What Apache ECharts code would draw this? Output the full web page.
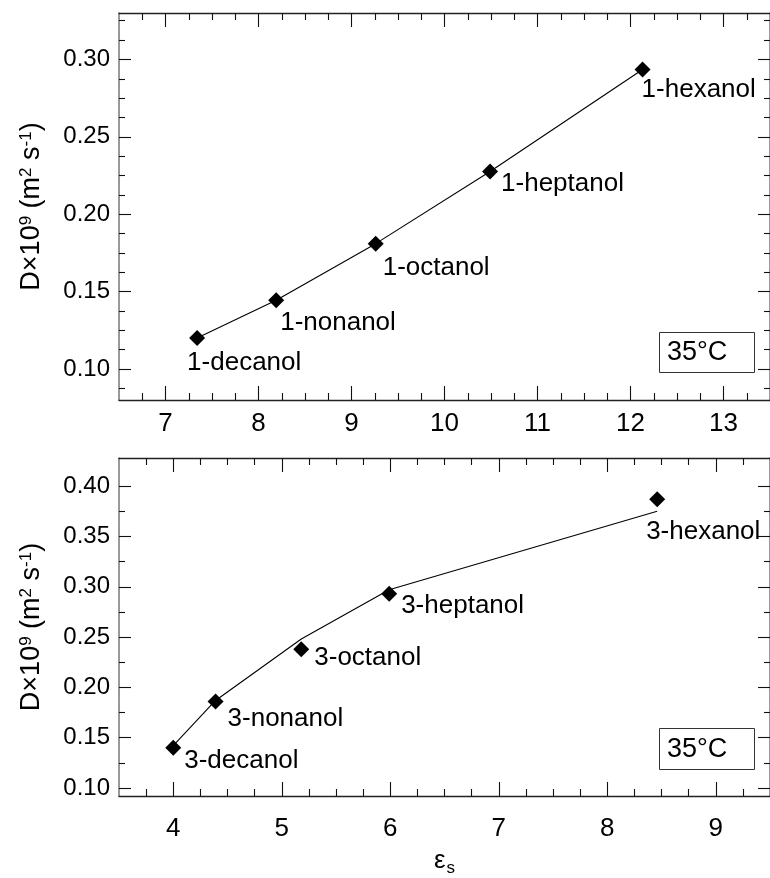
<!DOCTYPE html>
<html>
<head>
<meta charset="utf-8">
<script src="https://cdn.jsdelivr.net/npm/echarts@6/dist/echarts.min.js"></script>
<style>
  html, body { margin: 0; padding: 0; background: #fff; }
  #chart { width: 770px; height: 878px; }
</style>
</head>
<body>
<div id="chart"></div>
<script>
// Primary alcohols (upper panel)
const topNames = ['1-decanol', '1-nonanol', '1-octanol', '1-heptanol', '1-hexanol'];
const topEps   = [7.34, 8.19, 9.26, 10.49, 12.13];
const topD     = [0.120, 0.1445, 0.181, 0.2276, 0.2935];

// Secondary alcohols (lower panel): measured points and model curve
const botNames = ['3-decanol', '3-nonanol', '3-octanol', '3-heptanol', '3-hexanol'];
const botEps   = [4.00, 4.39, 5.18, 5.99, 8.46];
const botD     = [0.140, 0.186, 0.238, 0.293, 0.387];
const botFit   = [0.142, 0.187, 0.248, 0.297, 0.375];

// Tick labels
const topXTicks = [7, 8, 9, 10, 11, 12, 13];
const topYTicks = [0.10, 0.15, 0.20, 0.25, 0.30];
const botXTicks = [4, 5, 6, 7, 8, 9];
const botYTicks = [0.10, 0.15, 0.20, 0.25, 0.30, 0.35, 0.40];

const tempLabel = '35°C';

// Label placement relative to each marker (pixels)
const topLabelOffsets = [[-10, 25], [4, 23], [7, 24], [11, 12], [-1, 20]];
const botLabelOffsets = [[11, 13], [12, 17], [13, 9], [12, 12], [-11, 33]];

const FONT = '"Liberation Sans", Helvetica, Arial, sans-serif';
const INK = '#000';

function minorValues(min, max, step, majorStep) {
  const out = [];
  const n0 = Math.ceil(min / step - 1e-9);
  const n1 = Math.floor(max / step + 1e-9);
  for (let i = n0; i <= n1; i++) {
    const v = +(i * step).toFixed(6);
    const r = v / majorStep;
    if (Math.abs(r - Math.round(r)) < 1e-6) continue;
    if (v - min < step * 0.3 || max - v < step * 0.3) continue;
    out.push(v);
  }
  return out;
}

// Four x axes and four y axes per panel: labelled major, minor, and mirrored copies
function panelAxes(grid, xr, yr, xMajor, yMajor, xStep, yStep, xMajStep, yMajStep, xLabelMargin, withXName) {
  const xMinor = minorValues(xr[0], xr[1], xStep, xMajStep);
  const yMinor = minorValues(yr[0], yr[1], yStep, yMajStep);
  const xLine = { show: true, onZero: false, lineStyle: { color: '#222', width: 1.3 } };
  const yLine = { show: true, onZero: false, lineStyle: { color: '#777', width: 1.5 } };
  const tickStyle = { color: '#111', width: 1.1 };
  const base = { type: 'value', gridIndex: grid, splitLine: { show: false } };
  const xs = [
    Object.assign({}, base, {
      min: xr[0], max: xr[1], position: 'bottom', axisLine: xLine,
      axisTick: { show: true, inside: true, length: 14, customValues: xMajor, lineStyle: tickStyle },
      axisLabel: { show: true, customValues: xMajor, margin: xLabelMargin, color: INK, fontSize: 26, fontFamily: FONT,
                   formatter: v => String(Math.round(v)) },
      name: withXName ? '{e|ε}{s|s}' : '',
      nameLocation: 'middle', nameGap: 52,
      nameTextStyle: { color: INK, fontFamily: FONT,
        rich: { e: { fontSize: 26, fontFamily: FONT, color: INK, verticalAlign: 'top' },
                s: { fontSize: 17, fontFamily: FONT, color: INK, verticalAlign: 'bottom', padding: [12, 0, 0, 1] } } }
    }),
    Object.assign({}, base, {
      min: xr[0], max: xr[1], position: 'bottom', axisLine: { show: false },
      axisTick: { show: true, inside: true, length: 7, customValues: xMinor, lineStyle: tickStyle },
      axisLabel: { show: false }
    }),
    Object.assign({}, base, {
      min: xr[0], max: xr[1], position: 'top', axisLine: xLine,
      axisTick: { show: true, inside: true, length: 14, customValues: xMajor, lineStyle: tickStyle },
      axisLabel: { show: false }
    }),
    Object.assign({}, base, {
      min: xr[0], max: xr[1], position: 'top', axisLine: { show: false },
      axisTick: { show: true, inside: true, length: 7, customValues: xMinor, lineStyle: tickStyle },
      axisLabel: { show: false }
    })
  ];
  const ys = [
    Object.assign({}, base, {
      min: yr[0], max: yr[1], position: 'left', axisLine: yLine,
      axisTick: { show: true, inside: true, length: 12, customValues: yMajor, lineStyle: tickStyle },
      axisLabel: { show: true, customValues: yMajor, margin: 9, color: INK, fontSize: 24, fontFamily: FONT,
                   formatter: v => v.toFixed(2) },
      name: '{n|D×10}{p|9}{n| (m}{p|2}{n| s}{p|-1}{n|)}',
      nameLocation: 'middle', nameGap: 74, nameRotate: 90,
      nameTextStyle: { color: INK, fontFamily: FONT,
        rich: { n: { fontSize: 27, fontFamily: FONT, color: INK, verticalAlign: 'bottom' },
                p: { fontSize: 17, fontFamily: FONT, color: INK, verticalAlign: 'top' } } }
    }),
    Object.assign({}, base, {
      min: yr[0], max: yr[1], position: 'left', axisLine: { show: false },
      axisTick: { show: true, inside: true, length: 6, customValues: yMinor, lineStyle: tickStyle },
      axisLabel: { show: false }
    }),
    Object.assign({}, base, {
      min: yr[0], max: yr[1], position: 'right', axisLine: yLine,
      axisTick: { show: true, inside: true, length: 12, customValues: yMajor, lineStyle: tickStyle },
      axisLabel: { show: false }
    }),
    Object.assign({}, base, {
      min: yr[0], max: yr[1], position: 'right', axisLine: { show: false },
      axisTick: { show: true, inside: true, length: 6, customValues: yMinor, lineStyle: tickStyle },
      axisLabel: { show: false }
    })
  ];
  return { xs, ys };
}

const topAxes = panelAxes(0, [6.5, 13.5], [0.08, 0.33], topXTicks, topYTicks, 0.25, 0.0125, 1, 0.05, 11, false);
const botAxes = panelAxes(1, [3.5, 9.5], [0.092, 0.428], botXTicks, botYTicks, 0.25, 0.025, 1, 0.05, 20, true);

function pointData(xs, ys, names, offsets) {
  return xs.map((x, i) => ({
    value: [x, ys[i]], name: names[i],
    label: { offset: offsets[i] }
  }));
}

const labelStyle = {
  show: true, position: 'inside', align: 'left', verticalAlign: 'middle',
  formatter: p => p.name, color: INK, fontSize: 26, fontFamily: FONT, opacity: 1
};

const option = {
  backgroundColor: '#fff',
  animation: false,
  grid: [
    { left: 119, top: 13, width: 652, height: 387 },
    { left: 119, top: 458, width: 652, height: 338 }
  ],
  xAxis: topAxes.xs.concat(botAxes.xs),
  yAxis: topAxes.ys.concat(botAxes.ys),
  series: [
    {
      type: 'line', xAxisIndex: 0, yAxisIndex: 0, showSymbol: false, symbol: 'none',
      data: topEps.map((x, i) => [x, topD[i]]),
      lineStyle: { color: '#000', width: 1.1 }, z: 2, silent: true
    },
    {
      type: 'scatter', xAxisIndex: 0, yAxisIndex: 0, symbol: 'diamond', symbolSize: 16,
      itemStyle: { color: '#000', opacity: 1 }, label: labelStyle, z: 3,
      data: pointData(topEps, topD, topNames, topLabelOffsets)
    },
    {
      type: 'line', xAxisIndex: 4, yAxisIndex: 4, showSymbol: false, symbol: 'none',
      data: botEps.map((x, i) => [x, botFit[i]]),
      lineStyle: { color: '#000', width: 1.1 }, z: 2, silent: true
    },
    {
      type: 'scatter', xAxisIndex: 4, yAxisIndex: 4, symbol: 'diamond', symbolSize: 16,
      itemStyle: { color: '#000', opacity: 1 }, label: labelStyle, z: 3,
      data: pointData(botEps, botD, botNames, botLabelOffsets)
    }
  ],
  graphic: [
    { type: 'rect', shape: { x: 659.5, y: 332.5, width: 95, height: 40 },
      style: { fill: '#fff', stroke: '#333', lineWidth: 1 }, z: 10 },
    { type: 'text', x: 667, y: 353,
      style: { text: tempLabel, fill: INK, fontSize: 27, fontFamily: FONT, verticalAlign: 'middle' }, z: 11 },
    { type: 'rect', shape: { x: 659.5, y: 728.5, width: 95, height: 41 },
      style: { fill: '#fff', stroke: '#333', lineWidth: 1 }, z: 10 },
    { type: 'text', x: 667, y: 749.5,
      style: { text: tempLabel, fill: INK, fontSize: 27, fontFamily: FONT, verticalAlign: 'middle' }, z: 11 }
  ]
};

const chart = echarts.init(document.getElementById('chart'), null, { renderer: 'canvas' });
chart.setOption(option);
</script>
</body>
</html>
